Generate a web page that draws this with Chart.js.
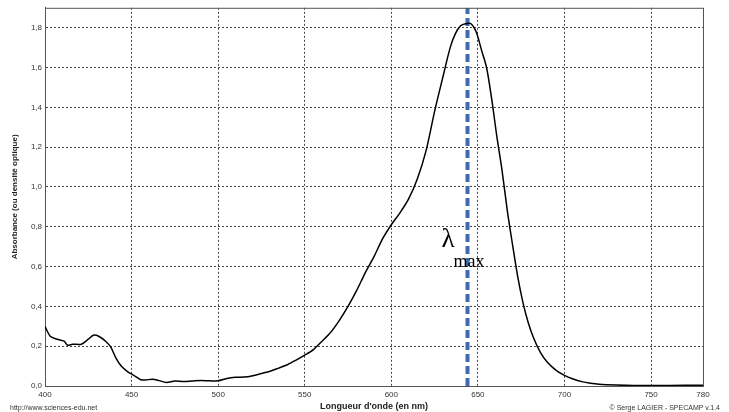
<!DOCTYPE html>
<html>
<head>
<meta charset="utf-8">
<script src="https://cdn.jsdelivr.net/npm/chart.js@4.4.1/dist/chart.umd.min.js"></script>
<style>
  html, body { margin: 0; padding: 0; background: #fff; }
  #wrap { position: relative; width: 729px; height: 412px; }
</style>
</head>
<body>
<div id="wrap"><canvas id="chart" width="729" height="412"></canvas></div>
<script>
// Spectre d'absorption
const longueurs = [400, 403, 407, 411, 413, 416, 421, 425, 428, 431, 435, 438, 441, 444, 448, 451, 455, 458, 462, 466,
  470, 475, 480, 485, 490, 495, 500, 505, 510, 515, 520, 525, 530, 535, 540, 545, 550, 555, 560, 565,
  570, 575, 580, 585, 590, 595, 600, 605, 610, 615, 620, 625, 630, 634, 637, 640, 643, 646, 649, 652,
  655, 658, 661, 664, 667, 670, 673, 676, 679, 682, 686, 690, 695, 700, 705, 710, 715, 720, 730, 740, 760, 780];
const absorbance = [0.30, 0.25, 0.235, 0.225, 0.205, 0.21, 0.21, 0.235, 0.255, 0.25, 0.225, 0.195, 0.14, 0.10, 0.07, 0.055, 0.033, 0.030, 0.034, 0.027,
  0.018, 0.025, 0.022, 0.025, 0.028, 0.026, 0.026, 0.038, 0.044, 0.045, 0.052, 0.063, 0.074, 0.090, 0.107, 0.130, 0.155, 0.183, 0.225, 0.27,
  0.33, 0.40, 0.48, 0.57, 0.65, 0.74, 0.81, 0.87, 0.94, 1.04, 1.18, 1.38, 1.56, 1.70, 1.77, 1.81, 1.82, 1.82, 1.78, 1.69,
  1.60, 1.44, 1.25, 1.08, 0.88, 0.71, 0.55, 0.42, 0.32, 0.245, 0.17, 0.12, 0.08, 0.053, 0.035, 0.022, 0.014, 0.009, 0.005, 0.003, 0.003, 0.004];
const lambdaMax = 644;

const xTicks = [400, 450, 500, 550, 600, 650, 700, 750, 780];
const yTicks = [0, 0.2, 0.4, 0.6, 0.8, 1.0, 1.2, 1.4, 1.6, 1.8];

const spectre = longueurs.map((l, i) => ({ x: l, y: absorbance[i] }));

// cadre + texte lambda max + mentions en bas
const extras = {
  id: 'extras',
  afterDraw(chart) {
    const ctx = chart.ctx, a = chart.chartArea;
    const x = chart.scales.x, y = chart.scales.y;
    ctx.save();
    ctx.strokeStyle = '#555';
    ctx.lineWidth = 1;
    ctx.beginPath();
    ctx.moveTo(a.left, a.top + 0.5); ctx.lineTo(a.right + 0.5, a.top + 0.5); ctx.lineTo(a.right + 0.5, a.bottom);
    ctx.stroke();

    ctx.fillStyle = '#000';
    const lx = x.getPixelForValue(lambdaMax) - 26;
    ctx.font = '27px "Liberation Serif"';
    ctx.textBaseline = 'alphabetic';
    ctx.fillText('\u03bb', lx, y.getPixelForValue(0.70));
    ctx.font = '18px "Liberation Serif"';
    ctx.fillText('max', lx + 12, y.getPixelForValue(0.60));

    ctx.font = '7px "Liberation Sans"';
    ctx.fillStyle = '#333';
    ctx.textBaseline = 'middle';
    ctx.textAlign = 'left';
    ctx.fillText('http://www.sciences-edu.net', 10, 408);
    ctx.textAlign = 'right';
    ctx.fillText('\u00a9 Serge LAGIER - SPECAMP v.1.4', 720, 408);
    ctx.restore();
  }
};

new Chart(document.getElementById('chart'), {
  type: 'line',
  data: {
    datasets: [
      { data: spectre, borderColor: '#000', borderWidth: 1.5, pointRadius: 0, tension: 0.3 },
      { data: [{ x: lambdaMax, y: 0 }, { x: lambdaMax, y: 1.9 }], borderColor: '#3c6db3', borderWidth: 4,
        borderDash: [8, 4], pointRadius: 0 }
    ]
  },
  options: {
    responsive: false,
    animation: false,
    layout: { padding: { top: 7, right: 26, left: 0, bottom: 0 } },
    plugins: { legend: { display: false }, tooltip: { enabled: false } },
    scales: {
      x: {
        type: 'linear', min: 400, max: 780,
        afterBuildTicks: s => { s.ticks = xTicks.map(v => ({ value: v })); },
        afterFit: s => { s.height = 26; },
        grid: { color: '#444', drawTicks: false },
        border: { color: '#555', dash: [2, 2] },
        ticks: { padding: 4, color: '#333', font: { size: 8, family: 'Liberation Sans' }, maxRotation: 0 },
        title: { display: true, text: "Longueur d'onde (en nm)", color: '#222', padding: 0,
          font: { size: 9, weight: 'bold', family: 'Liberation Sans' } }
      },
      y: {
        min: 0, max: 1.9,
        afterBuildTicks: s => { s.ticks = yTicks.map(v => ({ value: v })); },
        afterFit: s => { s.width = 45; },
        grid: { color: '#444', drawTicks: false },
        border: { color: '#555', dash: [2, 2] },
        ticks: { padding: 3, color: '#333', font: { size: 8, family: 'Liberation Sans' },
          callback: v => v.toFixed(1).replace('.', ',') },
        title: { display: true, text: 'Absorbance (ou densité optique)', color: '#222', padding: { top: 10 },
          font: { size: 8, weight: 'bold', family: 'Liberation Sans' } }
      }
    }
  },
  plugins: [extras]
});
</script>
</body>
</html>
